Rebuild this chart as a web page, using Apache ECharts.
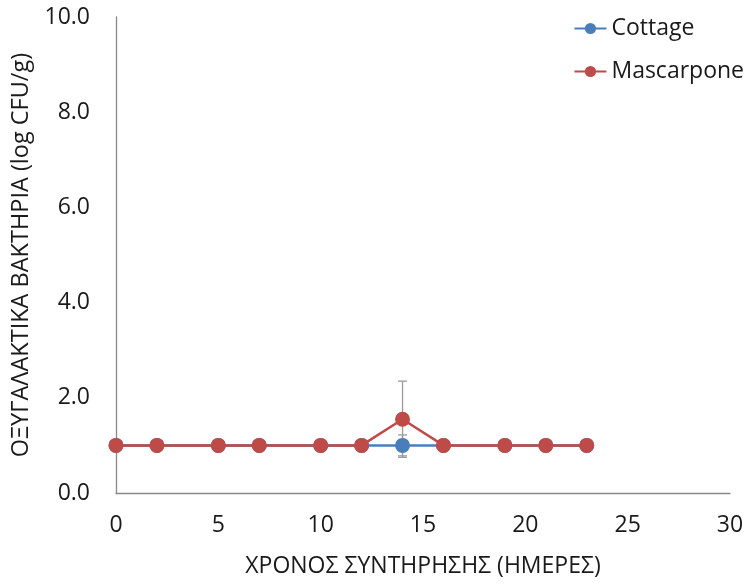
<!DOCTYPE html>
<html><head><meta charset="utf-8">
<script src="https://cdn.jsdelivr.net/npm/echarts@6/dist/echarts.min.js"></script>
<style>html,body{margin:0;padding:0;background:#fff}#c{width:753px;height:584px}</style>
</head><body><div id="c"></div>
<script>
const days = [0, 2, 5, 7, 10, 12, 14, 16, 19, 21, 23];
const cottage = [1.0, 1.0, 1.0, 1.0, 1.0, 1.0, 1.0, 1.0, 1.0, 1.0, 1.0];
const mascarpone = [1.0, 1.0, 1.0, 1.0, 1.0, 1.0, 1.55, 1.0, 1.0, 1.0, 1.0];
const mascarponeErr = [0, 0, 0, 0, 0, 0, 0.8, 0, 0, 0, 0];
const cottageErr = [0, 0, 0, 0, 0, 0, 0.22, 0, 0, 0, 0];
const xTitle = 'ΧΡΟΝΟΣ ΣΥΝΤΗΡΗΣΗΣ (ΗΜΕΡΕΣ)';
const yTitle = 'ΟΞΥΓΑΛΑΚΤΙΚΑ ΒΑΚΤΗΡΙΑ (log CFU/g)';
const FONT = 'Open Sans';

function errData(vals, errs) {
  const out = [];
  days.forEach((d, i) => { if (errs[i] > 0) out.push([d, vals[i] - errs[i], vals[i] + errs[i]]); });
  return out;
}
function errSeries(vals, errs) {
  return {
    type: 'custom', silent: true, z: 1,
    data: errData(vals, errs),
    renderItem: function (params, api) {
      const lo = api.coord([api.value(0), api.value(1)]);
      const hi = api.coord([api.value(0), api.value(2)]);
      const w = 4.5;
      const st = { stroke: '#9a9a9a', lineWidth: 1.3 };
      return { type: 'group', children: [
        { type: 'line', shape: { x1: lo[0], y1: lo[1], x2: hi[0], y2: hi[1] }, style: st },
        { type: 'line', shape: { x1: hi[0] - w, y1: hi[1], x2: hi[0] + w, y2: hi[1] }, style: st },
        { type: 'line', shape: { x1: lo[0] - w, y1: lo[1], x2: lo[0] + w, y2: lo[1] }, style: st }
      ]};
    }
  };
}

const chart = echarts.init(document.getElementById('c'), null, { renderer: 'canvas' });
chart.setOption({
  animation: false,
  textStyle: { fontFamily: FONT },
  grid: { left: 116, right: 23, top: 17, bottom: 91, containLabel: false },
  legend: {
    orient: 'vertical', right: 4, top: 12, itemGap: 20,
    itemWidth: 32, itemHeight: 14,
    textStyle: { fontFamily: FONT, fontSize: 23, color: '#1a1a1a' },
    data: ['Cottage', 'Mascarpone']
  },
  xAxis: {
    type: 'value', min: 0, max: 30, interval: 5,
    name: xTitle, nameLocation: 'middle', nameGap: 62,
    nameTextStyle: { fontFamily: FONT, fontSize: 23, color: '#1a1a1a' },
    axisLine: { show: true, lineStyle: { color: '#888', width: 1.3 } },
    axisTick: { show: false },
    splitLine: { show: false },
    axisLabel: { fontFamily: FONT, fontSize: 23, color: '#1a1a1a', margin: 21 }
  },
  yAxis: {
    type: 'value', min: 0, max: 10, interval: 2,
    name: yTitle, nameLocation: 'middle', nameGap: 79,
    nameTextStyle: { fontFamily: FONT, fontSize: 23.5, color: '#1a1a1a' },
    axisLine: { show: true, lineStyle: { color: '#888', width: 1.3 } },
    axisTick: { show: false },
    splitLine: { show: false },
    axisLabel: { fontFamily: FONT, fontSize: 23, color: '#1a1a1a', margin: 26,
      formatter: v => v.toFixed(1) }
  },
  series: [
    errSeries(cottage, cottageErr),
    errSeries(mascarpone, mascarponeErr),
    {
      name: 'Cottage', type: 'line', z: 2,
      data: days.map((d, i) => [d, cottage[i]]),
      symbol: 'circle', symbolSize: 15,
      lineStyle: { color: '#4a7ebb', width: 2.5 },
      itemStyle: { color: '#4a7ebb' }
    },
    {
      name: 'Mascarpone', type: 'line', z: 3,
      data: days.map((d, i) => [d, mascarpone[i]]),
      symbol: 'circle', symbolSize: 15,
      lineStyle: { color: '#be4b48', width: 2.5 },
      itemStyle: { color: '#be4b48' }
    }
  ]
});
</script></body></html>
